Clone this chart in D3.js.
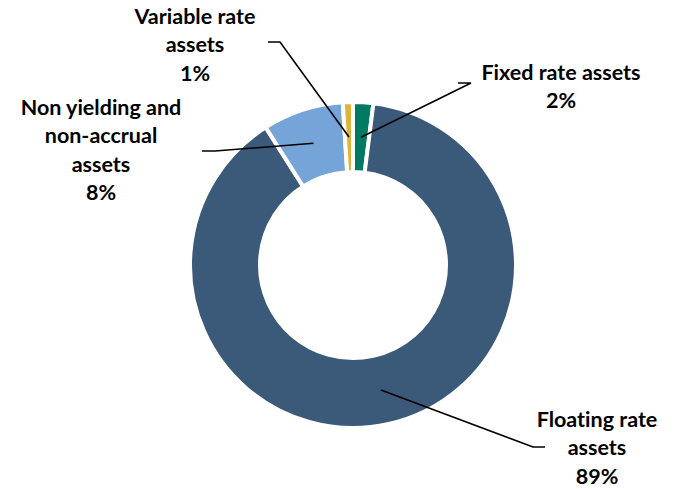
<!DOCTYPE html>
<html>
<head>
<meta charset="utf-8">
<script src="https://cdn.jsdelivr.net/npm/d3@7"></script>
<style>
  html, body { margin: 0; padding: 0; background: #fff; }
  svg text { font-family: Lato, "Open Sans", sans-serif; font-weight: 700; fill: #000; font-variant-ligatures: none; }
</style>
</head>
<body>
<svg id="chart" width="687" height="489"></svg>
<script>
// Asset mix by interest-rate type (share of total, %)
const categories = ["Fixed rate assets", "Floating rate assets", "Non yielding and non-accrual assets", "Variable rate assets"];
const values = [2, 89, 8, 1];
const labelLines = [
  ["Fixed rate assets", "2%"],
  ["Floating rate", "assets", "89%"],
  ["Non yielding and", "non-accrual", "assets", "8%"],
  ["Variable rate", "assets", "1%"]
];
const colors = ["#007A63", "#3B5978", "#74A4D8", "#E0B43A"];

// Layout of the callouts: text centre, first baseline, and elbow of the leader line
const callouts = [
  { x: 561, y: 80,  elbow: [[471, 83], [458, 83]] },
  { x: 597, y: 427, elbow: [[533, 447], [545, 447]] },
  { x: 101, y: 115, elbow: [[215, 151], [202, 151]] },
  { x: 195, y: 24,  elbow: [[280, 42], [268, 42]] }
];

const svg = d3.select("#chart");
const cx = 353, cy = 265, rOuter = 163, rInner = 93;
const g = svg.append("g").attr("transform", `translate(${cx},${cy})`);

const pie = d3.pie().sort(null).value(d => d)(values);
const arc = d3.arc().innerRadius(rInner).outerRadius(rOuter);
const mid = d3.arc().innerRadius((rInner + rOuter) / 2).outerRadius((rInner + rOuter) / 2);

g.selectAll("path.slice")
  .data(pie)
  .join("path")
  .attr("class", "slice")
  .attr("d", arc)
  .attr("fill", (d, i) => colors[i])
  .attr("stroke", "#fff")
  .attr("stroke-width", 4)
  .attr("stroke-linejoin", "miter");

// Leader lines from the slice's mid-ring point to the label elbow
pie.forEach((d, i) => {
  const [mx, my] = mid.centroid(d);
  const pts = [[mx + cx, my + cy], ...callouts[i].elbow];
  svg.append("path")
    .attr("d", d3.line()(pts))
    .attr("fill", "none")
    .attr("stroke", "#000")
    .attr("stroke-width", 1.6);
});

// Labels
callouts.forEach((c, i) => {
  const t = svg.append("text")
    .attr("text-anchor", "middle")
    .attr("font-size", 21.5);
  labelLines[i].forEach((line, k) => {
    t.append("tspan")
      .attr("x", c.x)
      .attr("y", c.y + k * 28.3)
      .text(line);
  });
});
</script>
</body>
</html>
